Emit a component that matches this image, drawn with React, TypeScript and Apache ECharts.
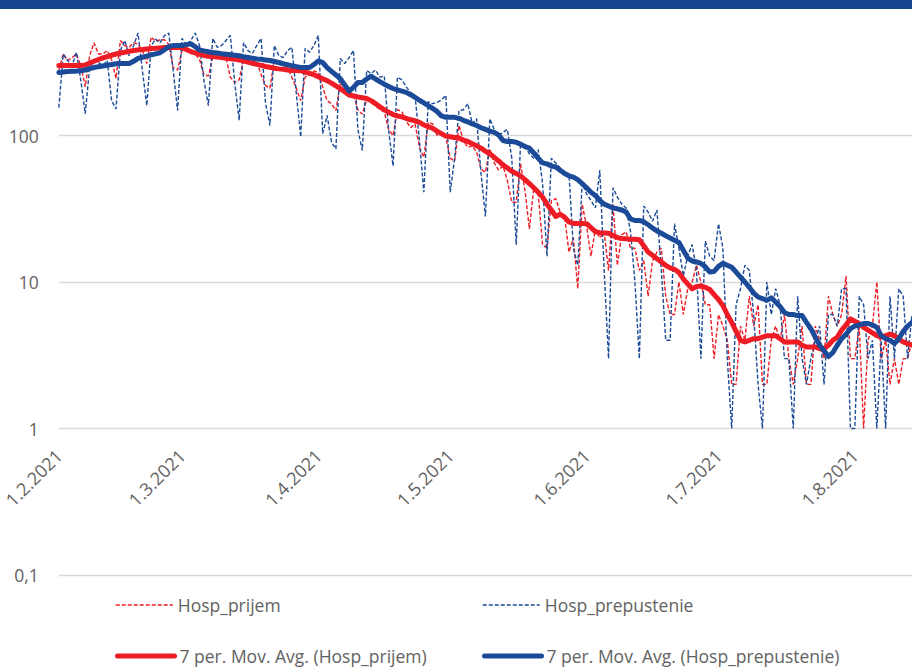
import React, { useEffect, useRef } from "react";
import * as echarts from "echarts";

// Daily admissions (Hosp_prijem), 1.2.2021 onwards
const hospPrijem = [
  280, 360, 325, 340, 360, 300, 215,
  350, 430, 360, 360, 380, 330, 245,
  445, 410, 400, 430, 420, 380, 310,
  470, 440, 450, 450, 420, 290, 280,
  380, 380, 370, 360, 330, 260, 255,
  340, 350, 345, 340, 250, 230, 240,
  330, 325, 320, 320, 260, 220, 210,
  330, 320, 310, 290, 250, 210, 173,
  250, 265, 275, 270, 215, 173, 165,
  148, 230, 210, 200, 190, 150, 140,
  175, 170, 160, 150, 145, 110, 100,
  150, 145, 125, 113, 120, 83, 71,
  123, 120, 100, 105, 97, 70, 67,
  117, 92, 83, 85, 77, 59, 56,
  81, 65, 58, 62, 49, 35, 35,
  64, 42, 23, 44, 40, 18, 17,
  36, 37, 30, 28, 16, 20, 9,
  34, 24, 15, 23, 20, 22, 12,
  34, 13, 21, 22, 17, 17, 12,
  14, 8, 14, 16, 17, 8, 6,
  6, 10, 6, 9, 10, 13, 10,
  7, 7, 3, 6, 5, 4, 2,
  2, 5, 4, 8, 5, 7, 2,
  2, 4, 5, 4, 6, 3, 2,
  3, 5, 2, 2, 5, 4, 3,
  8, 6, 5, 6, 11, 3, 3,
  5, 1, 4, 5, 10, 3, 4,
  2, 3, 2, 3, 3, 4,
];

// Daily discharges (Hosp_prepustenie)
const hospPrepustenie = [
  155, 360, 325, 300, 370, 237, 141,
  290, 325, 315, 300, 325, 173, 152,
  380, 445, 350, 410, 500, 278, 160,
  410, 455, 430, 480, 500, 278, 148,
  460, 411, 445, 500, 411, 237, 160,
  460, 400, 411, 445, 482, 228, 127,
  430, 380, 363, 411, 460, 166, 117,
  411, 352, 340, 380, 400, 193, 98,
  393, 370, 411, 482, 103, 137, 90,
  81, 335, 310, 340, 380, 110, 79,
  278, 265, 280, 250, 255, 108, 62,
  250, 240, 215, 196, 188, 92, 41,
  170, 165, 168, 175, 188, 41, 70,
  148, 150, 165, 121, 130, 55, 28,
  130, 110, 100, 105, 110, 70, 18,
  90, 85, 75, 70, 80, 47, 15,
  70, 65, 60, 55, 55, 17, 13,
  47, 40, 36, 32, 58, 12, 3,
  44, 38, 34, 32, 22, 10, 3,
  33, 30, 26, 31, 12, 4, 4,
  25, 17, 11, 15, 18, 12, 3,
  19, 15, 14, 25, 17, 3, 1,
  7, 9, 13, 12, 6, 2, 1,
  10, 6, 9, 7, 3, 3, 1,
  8, 3, 2, 3, 4, 5, 2,
  6, 6, 5, 9, 9, 1, 1,
  8, 7, 3, 4, 1, 4, 1,
  8, 3, 9, 8, 3, 6,
];

// 7 per. Mov. Avg. (Hosp_prijem)
const maPrijem = [
  300, 300, 300, 300, 300, 300, 303,
  312, 321, 330, 339, 346, 353, 360,
  366, 370, 376, 380, 383, 386, 390,
  393, 394, 396, 398, 399, 399, 399,
  399, 386, 374, 366, 358, 352, 348,
  346, 343, 340, 337, 334, 332, 328,
  322, 317, 311, 306, 301, 296, 292,
  288, 285, 283, 280, 278, 278, 277,
  271, 266, 260, 252, 244, 237, 228,
  218, 209, 199, 189, 186, 183, 181,
  179, 173, 165, 157, 150, 144, 139,
  136, 134, 131, 128, 126, 123, 118,
  115, 112, 107, 103, 99, 98, 97,
  96, 93, 91, 88, 85, 82, 78,
  75, 71, 67, 63, 60, 57, 55,
  53, 50, 47, 44, 41, 38, 34,
  31, 28, 29, 27.7, 25.7, 25.1, 25.1,
  25.1, 25, 23.5, 22.1, 21.7, 21.6, 21.5,
  20.8, 20.1, 19.8, 19.7, 19.6, 19.6, 19.4,
  17.7, 16, 15.2, 14.4, 13.7, 13, 12.5,
  12.2, 11.6, 10.5, 9.7, 9, 9.3, 9.4,
  9.2, 8.9, 8.2, 7.6, 6.9, 6, 5.3,
  4.6, 4, 3.9, 4, 4.1, 4.1, 4.2,
  4.3, 4.3, 4.3, 4.1, 3.9, 3.9, 3.9,
  3.9, 3.7, 3.6, 3.6, 3.6, 3.5, 3.5,
  3.7, 4, 4.2, 4.7, 5.1, 5.6, 5.4,
  5.2, 4.9, 4.7, 4.5, 4.3, 4.2, 4.3,
  4.4, 4.3, 4.1, 3.9, 3.8, 3.7,
];

// 7 per. Mov. Avg. (Hosp_prepustenie)
const maPrepustenie = [
  269, 271, 273, 274, 275, 277, 280,
  286, 291, 295, 298, 302, 305, 309,
  310, 310, 310, 321, 336, 342, 348,
  355, 361, 367, 385, 404, 411, 411,
  411, 417, 423, 403, 384, 378, 373,
  369, 366, 362, 359, 356, 353, 350,
  345, 341, 337, 333, 331, 328, 325,
  320, 315, 309, 304, 299, 295, 291,
  291, 291, 305, 323, 315, 291, 274,
  259, 244, 221, 201, 213, 230, 230,
  243, 254, 243, 233, 224, 216, 209,
  205, 201, 197, 190, 182, 174, 167,
  160, 153, 146, 136, 133, 133, 133,
  131, 127, 124, 120, 117, 113, 110,
  107, 105, 101, 92.5, 91, 91, 90,
  87, 84, 82, 76, 70, 65, 64,
  62, 61, 58, 55, 53, 52, 50,
  47, 44, 41, 39, 36, 34, 33,
  32, 31.6, 31, 30, 27, 26.3, 26.3,
  25.8, 24.6, 23.4, 22.3, 21.5, 20.7, 20,
  19.3, 18.6, 16.5, 14.6, 13.9, 13.7, 13.4,
  12.7, 11.7, 11.8, 12.8, 13.4, 13, 12.6,
  11.7, 10.8, 10, 9.2, 8.4, 7.9, 7.7,
  7.5, 7.8, 7.3, 6.8, 6.2, 6, 6,
  5.9, 5.9, 5.3, 4.8, 4.2, 3.7, 3.4,
  3.1, 3.3, 3.7, 4.1, 4.4, 4.8, 5,
  5.1, 5.2, 5.2, 5.1, 4.9, 4.3, 4.1,
  4, 3.8, 4.1, 4.6, 5, 5.3,
];

const START_DATE = [2021, 1, 1]; // 1.2.2021 (month index 1 = February)
const categories: string[] = hospPrijem.map((_, i) => {
  const d = new Date(Date.UTC(START_DATE[0], START_DATE[1], START_DATE[2] + i));
  return `${d.getUTCDate()}.${d.getUTCMonth() + 1}.${d.getUTCFullYear()}`;
});

const NAMES = [
  "Hosp_prijem",
  "Hosp_prepustenie",
  "7 per. Mov. Avg. (Hosp_prijem)",
  "7 per. Mov. Avg. (Hosp_prepustenie)",
];

const RED = "#ee1c25";
const BLUE = "#1b4a98";
const GRAY = "#626262";
const FONT = "'Open Sans', 'Noto Sans', sans-serif";

// The chart canvas is shifted up so that the 1000 gridline sits just above the page.
const SHIFT = 11;

export default function App() {
  const ref = useRef<HTMLDivElement>(null);

  useEffect(() => {
    if (!ref.current) return;
    const chart = echarts.init(ref.current, undefined, { renderer: "svg" });

    const legendCommon = {
      orient: "horizontal" as const,
      itemWidth: 57,
      itemHeight: 14,
      itemGap: 0,
      padding: 0,
      selectedMode: false,
      itemStyle: { opacity: 0 },
      textStyle: { color: GRAY, fontSize: 17.5, fontFamily: FONT },
    };

    chart.setOption({
      animation: false,
      backgroundColor: "#ffffff",
      grid: { left: 58, right: -2, top: 0, bottom: 93, containLabel: false },
      xAxis: {
        type: "category",
        data: categories,
        boundaryGap: false,
        position: "bottom",
        offset: -146.5,
        axisLine: { show: false },
        axisTick: { show: false },
        splitLine: { show: false },
        axisLabel: {
          rotate: 45,
          margin: 24,
          color: GRAY,
          fontSize: 18,
          fontFamily: FONT,
          interval: (idx: number, val: string) => val.startsWith("1."),
        },
      },
      yAxis: {
        type: "log",
        logBase: 10,
        min: 0.1,
        max: 1000,
        axisLine: { show: false },
        axisTick: { show: false },
        splitLine: { show: true, lineStyle: { color: "#d9d9d9", width: 1.3 } },
        axisLabel: {
          margin: 20,
          color: GRAY,
          fontSize: 17.5,
          fontFamily: FONT,
          formatter: (v: number) =>
            v >= 1000 ? "" : v < 1 ? String(v).replace(".", ",") : String(v),
        },
      },
      legend: [
        { ...legendCommon, data: [NAMES[0]], left: 115, top: 596 + SHIFT, lineStyle: { width: 1.5, type: [4, 2] } },
        { ...legendCommon, data: [NAMES[1]], left: 482, top: 596 + SHIFT, lineStyle: { width: 1.5, type: [4, 2] } },
        { ...legendCommon, data: [NAMES[2]], left: 115, top: 647 + SHIFT, lineStyle: { width: 5, type: "solid" } },
        { ...legendCommon, data: [NAMES[3]], left: 482, top: 647 + SHIFT, lineStyle: { width: 5, type: "solid" } },
      ],
      series: [
        {
          name: NAMES[0],
          type: "line",
          data: hospPrijem,
          symbol: "none",
          showSymbol: false,
          lineStyle: { color: RED, width: 1.4, type: [4, 2] },
          itemStyle: { color: RED },
          z: 2,
        },
        {
          name: NAMES[1],
          type: "line",
          data: hospPrepustenie,
          symbol: "none",
          showSymbol: false,
          lineStyle: { color: BLUE, width: 1.4, type: [4, 2] },
          itemStyle: { color: BLUE },
          z: 3,
        },
        {
          name: NAMES[2],
          type: "line",
          data: maPrijem,
          symbol: "none",
          showSymbol: false,
          lineStyle: { color: RED, width: 5, cap: "round", join: "round" },
          itemStyle: { color: RED },
          z: 4,
        },
        {
          name: NAMES[3],
          type: "line",
          data: maPrepustenie,
          symbol: "none",
          showSymbol: false,
          lineStyle: { color: BLUE, width: 5, cap: "round", join: "round" },
          itemStyle: { color: BLUE },
          z: 5,
        },
      ],
    });

    return () => chart.dispose();
  }, []);

  return (
    <div style={{ position: "fixed", left: 0, top: 0, width: 912, height: 668, overflow: "hidden", background: "#fff" }}>
      <div
        ref={ref}
        style={{ position: "absolute", left: 0, top: -SHIFT, width: 912, height: 668 + SHIFT }}
      />
      <div
        style={{ position: "absolute", left: 0, top: 0, width: 912, height: 9, background: "#17478f", zIndex: 10 }}
      />
    </div>
  );
}
